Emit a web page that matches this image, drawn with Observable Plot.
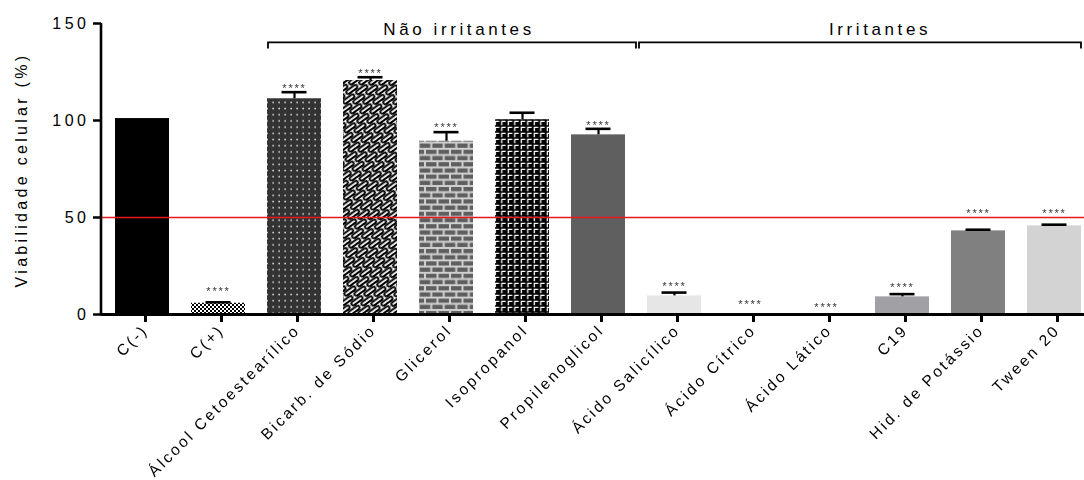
<!DOCTYPE html>
<html><head><meta charset="utf-8">
<script src="https://cdn.jsdelivr.net/npm/d3@7"></script>
<script src="https://cdn.jsdelivr.net/npm/@observablehq/plot@0.6"></script>
<style>
body{margin:0;background:#fff;}
#chart svg{font-family:"Liberation Sans",Arial,sans-serif;}
#chart g[aria-label="x-axis tick label"] text{letter-spacing:2.6px;}
#chart g[aria-label="y-axis tick label"] text{letter-spacing:3.5px;}
#chart g[aria-label="text"]{opacity:0.99;}
#chart g[aria-label="text"] text{letter-spacing:1.8px;}
</style></head><body>
<svg width="0" height="0" style="position:absolute">
<defs>
<pattern id="checker" width="4" height="4" patternUnits="userSpaceOnUse"><rect width="4" height="4" fill="#fff"/><rect width="2" height="2" fill="#000"/><rect x="2" y="2" width="2" height="2" fill="#000"/></pattern>
<pattern id="dots" width="6" height="6.2" patternUnits="userSpaceOnUse"><rect width="6" height="6.2" fill="#333"/><rect x="2.4" y="2.4" width="1.5" height="1.5" fill="#e4e4e4"/></pattern>
<pattern id="waves" width="16" height="12" patternUnits="userSpaceOnUse" patternTransform="rotate(-36)"><rect width="16" height="12" fill="#fff"/><g fill="#fff" stroke="#000" stroke-width="1.9"><rect x="1.5" y="1.2" width="13" height="3.8" rx="1.9"/><rect x="-6.5" y="7.2" width="13" height="3.8" rx="1.9"/><rect x="9.5" y="7.2" width="13" height="3.8" rx="1.9"/></g></pattern>
<pattern id="bricks" width="12.5" height="12.4" patternUnits="userSpaceOnUse"><rect width="12.5" height="12.4" fill="#d0d0d0"/><g fill="#5e5e5e"><rect x="1" y="1" width="10.5" height="4.2"/><rect x="-5.25" y="7.2" width="10.5" height="4.2"/><rect x="7.25" y="7.2" width="10.5" height="4.2"/></g></pattern>
<pattern id="weave" width="6.5" height="6" patternUnits="userSpaceOnUse"><rect width="6.5" height="6" fill="#000"/><path d="M1.3,5.3 V1.3 H5.2" fill="none" stroke="#fff" stroke-width="1.3"/></pattern>
</defs></svg>
<div id="chart"></div>
<script>
const categories = ["C(-)", "C(+)", "Álcool Cetoestearílico", "Bicarb. de Sódio", "Glicerol", "Isopropanol", "Propilenoglicol", "Ácido Salicílico", "Ácido Cítrico", "Ácido Lático", "C19", "Hid. de Potássio", "Tween 20"];
const means = [101, 5.8, 111.2, 120.6, 89.3, 100.4, 92.6, 9.6, 0, 0, 9.1, 43.1, 45.7];
const sds = [0, 0.5, 3.4, 1.7, 4.7, 3.6, 3.1, 1.7, 0, 0, 1.4, 0.6, 0.6];
const signif = ["", "****", "****", "****", "****", "", "****", "****", "****", "****", "****", "****", "****"];
const starLevels = [0, 13.4, 118, 125.8, 97.9, 0, 99, 16, 6.7, 5.4, 15.5, 53.6, 53.6];
const yTicks = [0, 50, 100, 150];
const threshold = 50;
const groupLabels = ["Não irritantes", "Irritantes"];
const groupFrom = ["Álcool Cetoestearílico", "Ácido Salicílico"];
const groupTo = ["Propilenoglicol", "Tween 20"];
const groupLevel = 140;
const groupLabelLevel = 147;

const barFills = ["#000", "url(#checker)", "url(#dots)", "url(#waves)", "url(#bricks)", "url(#weave)", "#5f5f5f", "#e6e6e6", "#e6e6e6", "#e6e6e6", "#a1a0a5", "#808080", "#d3d3d3"];

const data = categories.map((c, i) => ({cat: c, mean: means[i], sd: sds[i], top: means[i] + sds[i], sig: signif[i], star: starLevels[i], fill: barFills[i]}));
const font = "Liberation Sans, Arial, sans-serif";

const plot = Plot.plot({
  width: 1084, height: 480,
  marginLeft: 101, marginRight: 0, marginTop: 23, marginBottom: 166,
  style: {fontFamily: font, fontSize: "16px", color: "#000", background: "#fff", overflow: "visible"},
  x: {domain: categories, range: [113, 1082], paddingInner: 0.29, paddingOuter: 0, label: null},
  y: {domain: [0, 150], label: null},
  color: {type: "identity"},
  marks: [
    Plot.barY(data.filter(d => d.mean > 0), {x: "cat", y: "mean", fill: "fill"}),
    Plot.ruleX(data.filter(d => d.sd > 0), {x: "cat", y1: "mean", y2: "top", stroke: "#000", strokeWidth: 2.2}),
    Plot.tickY(data.filter(d => d.sd > 0), {x: "cat", y: "top", stroke: "#000", strokeWidth: 2.6, inset: 14.5}),
    Plot.ruleY([threshold], {stroke: "#e8171b", strokeWidth: 1.4}),
    Plot.text(data.filter(d => d.sig), {x: "cat", y: "star", text: "sig", fontSize: 11, fill: "#333", dy: 3}),
    Plot.ruleY([0], {stroke: "#000", strokeWidth: 3}),
    Plot.axisY({ticks: yTicks, tickSize: 8, tickPadding: 4, strokeWidth: 2.5, fontSize: 16, label: null}),
    Plot.axisX({tickRotate: -45, tickSize: 8, tickPadding: 5, dx: 3, strokeWidth: 3, fontSize: 15.5, label: null})
  ]
});

document.getElementById("chart").appendChild(plot);

const svg = d3.select(plot);
const sx = plot.scale("x"), sy = plot.scale("y");

// y axis line
svg.append("path")
  .attr("d", `M101,${sy.apply(150)}V${sy.apply(0) + 1.5}`)
  .attr("stroke", "#000").attr("stroke-width", 2.6).attr("fill", "none");

// y axis title
svg.append("text")
  .attr("transform", "translate(27,170) rotate(-90)")
  .attr("text-anchor", "middle")
  .attr("font-size", 16)
  .attr("letter-spacing", "3.3px")
  .attr("font-family", font)
  .text("Viabilidade celular (%)");

// group brackets
const step = sx.apply(categories[1]) - sx.apply(categories[0]);
const bw = sx.bandwidth;
const gap = step - bw;
const yb = sy.apply(groupLevel), yl = sy.apply(groupLabelLevel);
groupLabels.forEach((lab, i) => {
  const x1 = i === 0 ? sx.apply(groupFrom[i]) + 1 : sx.apply(groupFrom[i]) - gap / 2 + 3;
  const x2 = i === 0 ? sx.apply(groupTo[i]) + bw + gap / 2 : sx.apply(groupTo[i]) + bw;
  svg.append("path")
    .attr("d", `M${x1},${yb + 6}V${yb}H${x2}V${yb + 6}`)
    .attr("fill", "none").attr("stroke", "#000").attr("stroke-width", 1.8);
  svg.append("text")
    .attr("x", (x1 + x2) / 2 + (i === 0 ? 7 : 20)).attr("y", yl)
    .attr("dy", "0.35em")
    .attr("text-anchor", "middle")
    .attr("font-size", 17)
    .attr("letter-spacing", "3.6px")
    .attr("font-family", font)
    .text(lab);
});
</script>
</body></html>
